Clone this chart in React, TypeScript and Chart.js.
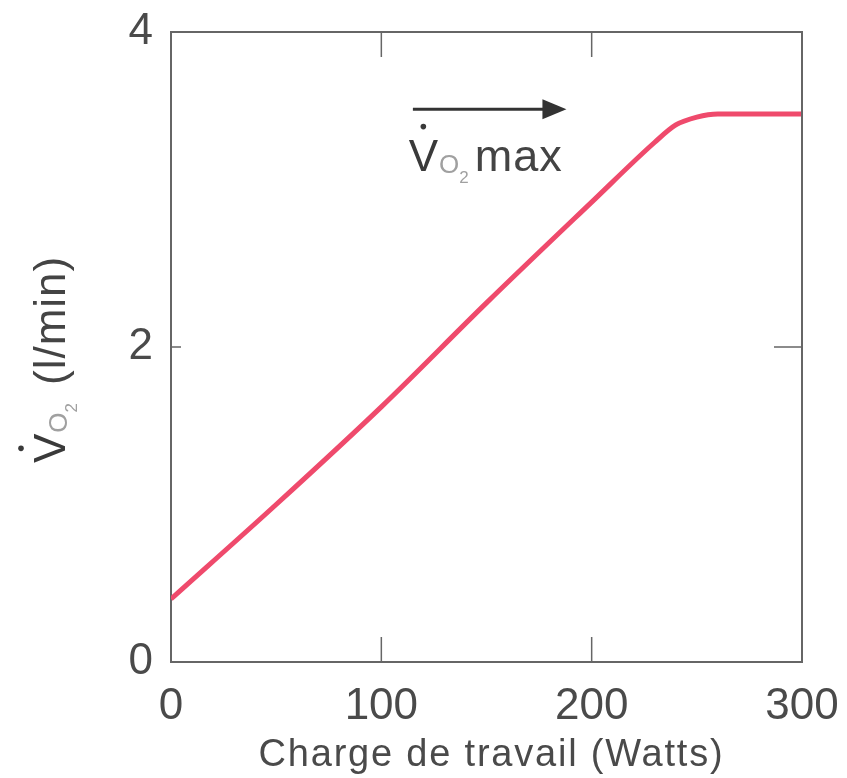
import React, { useEffect, useRef } from "react";
import { Chart, registerables } from "chart.js";

Chart.register(...registerables);

// Data
const workload: number[] = [0, 50, 100, 150, 200, 230, 240, 250, 260, 280, 300];
const vo2: number[] = [0.4, 1.0, 1.62, 2.28, 2.92, 3.3, 3.41, 3.46, 3.48, 3.48, 3.48];
const xTicks: number[] = [0, 100, 200, 300];
const yTicks: number[] = [0, 2, 4];
const xTitle = "Charge de travail (Watts)";
const yTitleUnit = "(l/min)";
const annotationText = "max";

// annotation anchors in data units
const ARROW_FROM = 115;
const ARROW_TO = 188;
const ARROW_Y = 3.51;
const LABEL_X = 113;
const LABEL_Y = 3.12;

const FONT = "'Liberation Sans', Arial, Helvetica, sans-serif";

function drawVO2(ctx: CanvasRenderingContext2D, x0: number, base: number, vColor: string, subColor: string) {
  ctx.textBaseline = "alphabetic";
  ctx.textAlign = "left";
  ctx.font = `44px ${FONT}`;
  ctx.fillStyle = vColor;
  ctx.fillText("V", x0, base);
  const vw = ctx.measureText("V").width;
  ctx.beginPath();
  ctx.arc(x0 + vw / 2, base - 44, 2.8, 0, Math.PI * 2);
  ctx.fill();
  let x = x0 + vw + 1;
  ctx.font = `26px ${FONT}`;
  ctx.fillStyle = subColor;
  ctx.fillText("O", x, base + 2);
  x += ctx.measureText("O").width;
  ctx.font = `17px ${FONT}`;
  ctx.fillText("2", x, base + 12);
  x += ctx.measureText("2").width;
  return x;
}

const customPlugin = {
  id: "customDecor",
  afterDraw(chart: any) {
    const { ctx, chartArea } = chart;
    const xs = chart.scales.x;
    const ys = chart.scales.y;
    const { left, right, top, bottom } = chartArea;
    ctx.save();
    ctx.strokeStyle = "#666";
    ctx.lineWidth = 2;
    ctx.beginPath();
    ctx.moveTo(left, top);
    ctx.lineTo(right, top);
    ctx.lineTo(right, bottom);
    ctx.stroke();
    ctx.lineWidth = 1.5;
    ctx.beginPath();
    xTicks.forEach((t) => {
      if (t === xs.min || t === xs.max) return;
      const px = xs.getPixelForValue(t);
      ctx.moveTo(px, bottom);
      ctx.lineTo(px, bottom - 25);
      ctx.moveTo(px, top);
      ctx.lineTo(px, top + 25);
    });
    yTicks.forEach((t) => {
      if (t === ys.min || t === ys.max) return;
      const py = ys.getPixelForValue(t);
      ctx.moveTo(left, py);
      ctx.lineTo(left + 10, py);
      ctx.moveTo(right, py);
      ctx.lineTo(right - 28, py);
    });
    ctx.stroke();

    // arrow
    const ax0 = xs.getPixelForValue(ARROW_FROM);
    const ax1 = xs.getPixelForValue(ARROW_TO);
    const ay = ys.getPixelForValue(ARROW_Y);
    ctx.strokeStyle = "#333";
    ctx.fillStyle = "#333";
    ctx.lineWidth = 3;
    ctx.beginPath();
    ctx.moveTo(ax0, ay);
    ctx.lineTo(ax1 - 20, ay);
    ctx.stroke();
    ctx.beginPath();
    ctx.moveTo(ax1, ay);
    ctx.lineTo(ax1 - 24, ay - 10);
    ctx.lineTo(ax1 - 24, ay + 10);
    ctx.closePath();
    ctx.fill();

    // annotation label
    const lx = xs.getPixelForValue(LABEL_X);
    const ly = ys.getPixelForValue(LABEL_Y);
    let ex = drawVO2(ctx, lx, ly, "#3a3a3a", "#a0a0a0");
    ctx.font = `45px ${FONT}`;
    (ctx as any).letterSpacing = "1px";
    ctx.fillStyle = "#444";
    ctx.fillText(annotationText, ex + 6, ly);
    (ctx as any).letterSpacing = "0px";

    // y title (rotated)
    ctx.save();
    ctx.translate(65, 463);
    ctx.rotate(-Math.PI / 2);
    ex = drawVO2(ctx, 0, 0, "#3a3a3a", "#a0a0a0");
    ctx.font = `44px ${FONT}`;
    (ctx as any).letterSpacing = "1px";
    ctx.fillStyle = "#444";
    ctx.fillText(yTitleUnit, ex + 18, 0);
    (ctx as any).letterSpacing = "0px";
    ctx.restore();

    // x title
    ctx.font = `38px ${FONT}`;
    (ctx as any).letterSpacing = "1.8px";
    ctx.fillStyle = "#4a4a4a";
    ctx.textAlign = "center";
    ctx.textBaseline = "alphabetic";
    ctx.fillText(xTitle, (left + right) / 2 + 5, 766);
    ctx.restore();
  },
};

export default function App() {
  const ref = useRef<HTMLCanvasElement | null>(null);
  useEffect(() => {
    document.body.style.margin = "0";
    const canvas = ref.current;
    if (!canvas) return;
    const noPad = (s: any) => {
      s.paddingTop = 0;
      s.paddingBottom = 0;
      s.paddingLeft = 0;
      s.paddingRight = 0;
    };
    const chart = new Chart(canvas, {
      type: "line",
      data: {
        datasets: [
          {
            data: workload.map((w, i) => ({ x: w, y: vo2[i] })),
            borderColor: "#ef4a6c",
            borderWidth: 5,
            pointRadius: 0,
            cubicInterpolationMode: "monotone",
            fill: false,
          },
        ],
      },
      options: {
        responsive: false,
        animation: false,
        layout: { padding: { top: 32, right: 45, left: 0, bottom: 0 } },
        plugins: { legend: { display: false }, tooltip: { enabled: false } },
        scales: {
          x: {
            type: "linear",
            min: 0,
            max: 300,
            afterBuildTicks: (s: any) => {
              s.ticks = xTicks.map((v) => ({ value: v }));
            },
            afterFit: (s: any) => {
              s.height = 116;
              noPad(s);
            },
            grid: { display: false, drawTicks: false },
            border: { display: true, color: "#666", width: 2 },
            ticks: {
              padding: 18,
              color: "#4a4a4a",
              font: { family: FONT, size: 44 },
              maxRotation: 0,
            },
          },
          y: {
            type: "linear",
            min: 0,
            max: 4,
            afterBuildTicks: (s: any) => {
              s.ticks = yTicks.map((v) => ({ value: v }));
            },
            afterFit: (s: any) => {
              s.width = 171;
              noPad(s);
            },
            grid: { display: false, drawTicks: false },
            border: { display: true, color: "#666", width: 2 },
            ticks: {
              padding: 18,
              color: "#4a4a4a",
              font: { family: FONT, size: 44 },
            },
          },
        },
      },
      plugins: [customPlugin],
    } as any);
    return () => chart.destroy();
  }, []);
  return (
    <div style={{ width: 847, height: 778, background: "#fff" }}>
      <canvas ref={ref} width={847} height={778} style={{ display: "block" }} />
    </div>
  );
}
